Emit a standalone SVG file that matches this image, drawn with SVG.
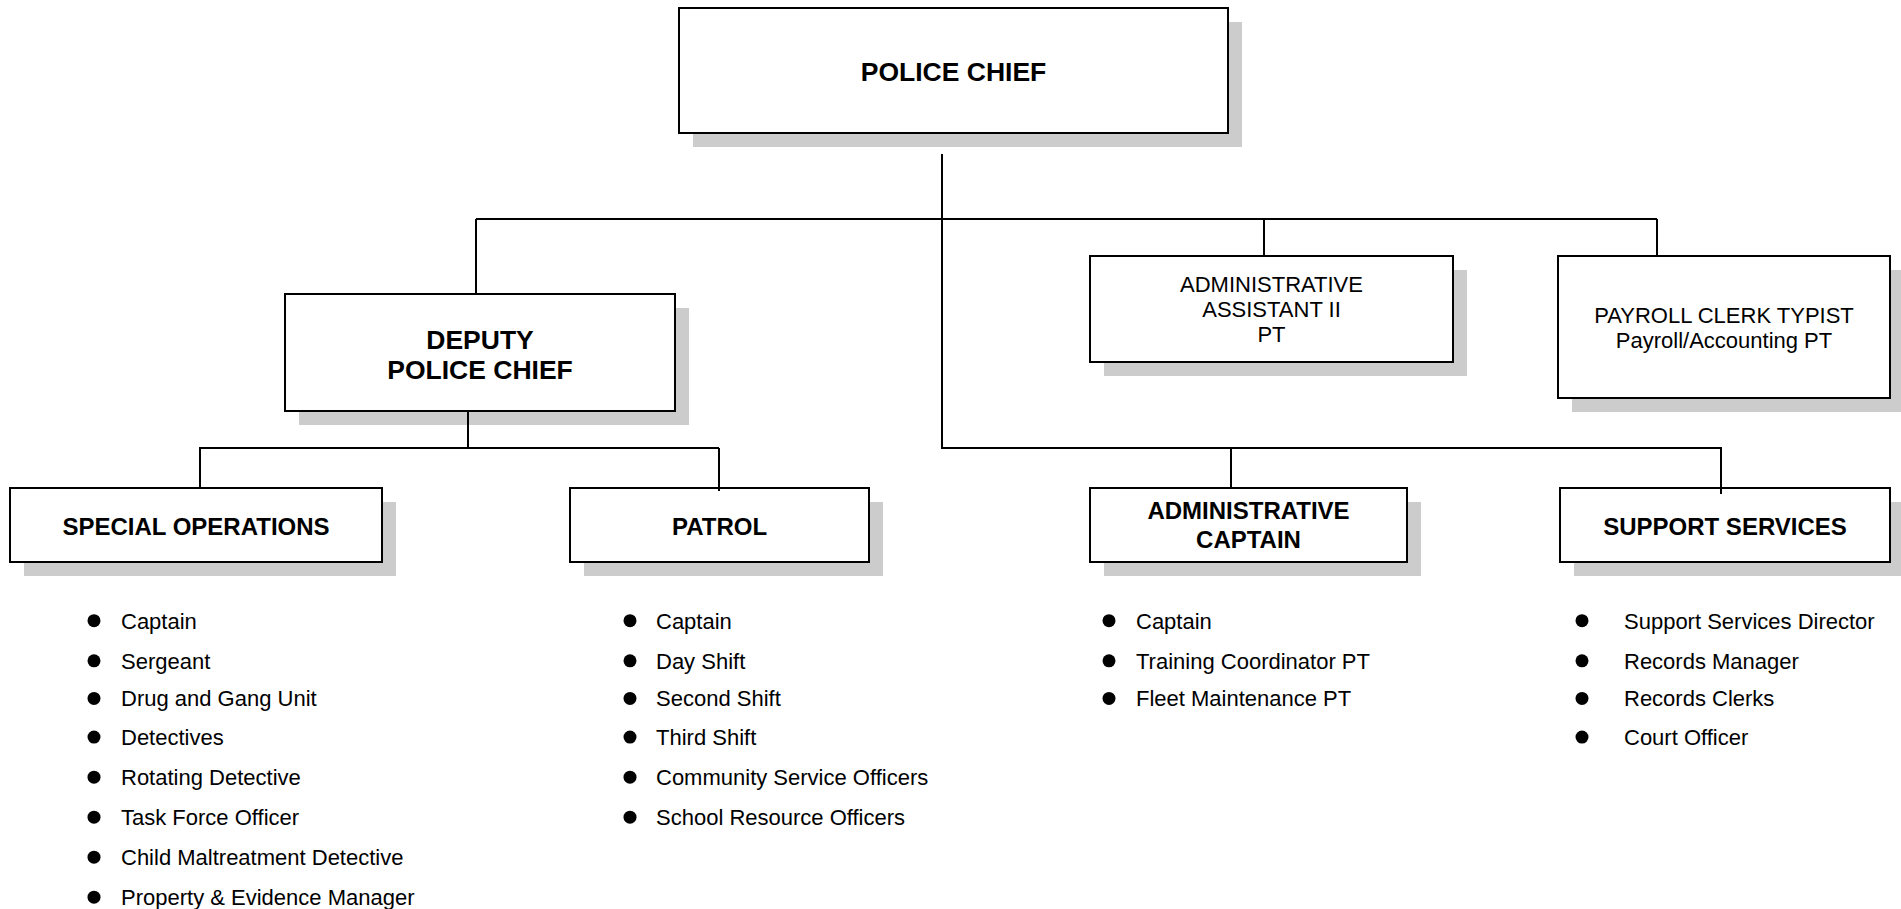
<svg xmlns="http://www.w3.org/2000/svg" width="1901" height="909" viewBox="0 0 1901 909">
<style>
.bg{fill:#ffffff}
.shadow{fill:#cccccc}
.box{fill:#ffffff;stroke:#000000;stroke-width:2}
.t1{font-family:"Liberation Sans",Arial,sans-serif;font-weight:bold;font-size:26.5px;text-anchor:middle;fill:#000}
.t2{font-family:"Liberation Sans",Arial,sans-serif;font-weight:bold;font-size:24px;text-anchor:middle;fill:#000}
.t3{font-family:"Liberation Sans",Arial,sans-serif;font-size:22px;text-anchor:middle;fill:#000}
.li{font-family:"Liberation Sans",Arial,sans-serif;font-size:22px;fill:#000}
.dot{fill:#000}
.conn line{stroke:#000;stroke-width:2;fill:none}
</style>
<rect class="bg" x="0" y="0" width="1901" height="909"/>

<g id="police-chief">
<rect class="shadow" x="693" y="22" width="549" height="125"/>
<rect class="box" x="679" y="8" width="549" height="125"/>
<text class="t1" x="953.5" y="81">POLICE CHIEF</text>
</g>

<g id="deputy-police-chief">
<rect class="shadow" x="299" y="308" width="390" height="117"/>
<rect class="box" x="285" y="294" width="390" height="117"/>
<text class="t1" x="480" y="349">DEPUTY</text>
<text class="t1" x="480" y="379">POLICE CHIEF</text>
</g>

<g id="administrative-assistant">
<rect class="shadow" x="1104" y="270" width="363" height="106"/>
<rect class="box" x="1090" y="256" width="363" height="106"/>
<text class="t3" x="1271.5" y="292">ADMINISTRATIVE</text>
<text class="t3" x="1271.5" y="317">ASSISTANT II</text>
<text class="t3" x="1271.5" y="342">PT</text>
</g>

<g id="payroll-clerk">
<rect class="shadow" x="1572" y="270" width="332" height="142"/>
<rect class="box" x="1558" y="256" width="332" height="142"/>
<text class="t3" x="1724" y="323">PAYROLL CLERK TYPIST</text>
<text class="t3" x="1724" y="348">Payroll/Accounting PT</text>
</g>

<g id="special-operations">
<rect class="shadow" x="24" y="502" width="372" height="74"/>
<rect class="box" x="10" y="488" width="372" height="74"/>
<text class="t2" x="196" y="535">SPECIAL OPERATIONS</text>
<g id="special-operations-list">
<circle class="dot" cx="94" cy="620.7" r="6.5"/><text class="li" x="121" y="628.7">Captain</text>
<circle class="dot" cx="94" cy="660.8" r="6.5"/><text class="li" x="121" y="668.8">Sergeant</text>
<circle class="dot" cx="94" cy="698.4" r="6.5"/><text class="li" x="121" y="706.4">Drug and Gang Unit</text>
<circle class="dot" cx="94" cy="737.1" r="6.5"/><text class="li" x="121" y="745.1">Detectives</text>
<circle class="dot" cx="94" cy="777.2" r="6.5"/><text class="li" x="121" y="785.2">Rotating Detective</text>
<circle class="dot" cx="94" cy="817.2" r="6.5"/><text class="li" x="121" y="825.2">Task Force Officer</text>
<circle class="dot" cx="94" cy="857.2" r="6.5"/><text class="li" x="121" y="865.2">Child Maltreatment Detective</text>
<circle class="dot" cx="94" cy="897.2" r="6.5"/><text class="li" x="121" y="905.2">Property &amp; Evidence Manager</text>
</g>
</g>

<g id="patrol">
<rect class="shadow" x="584" y="502" width="299" height="74"/>
<rect class="box" x="570" y="488" width="299" height="74"/>
<text class="t2" x="719.5" y="535">PATROL</text>
<g id="patrol-list">
<circle class="dot" cx="630" cy="620.7" r="6.5"/><text class="li" x="656" y="628.7">Captain</text>
<circle class="dot" cx="630" cy="660.8" r="6.5"/><text class="li" x="656" y="668.8">Day Shift</text>
<circle class="dot" cx="630" cy="698.4" r="6.5"/><text class="li" x="656" y="706.4">Second Shift</text>
<circle class="dot" cx="630" cy="737.1" r="6.5"/><text class="li" x="656" y="745.1">Third Shift</text>
<circle class="dot" cx="630" cy="777.2" r="6.5"/><text class="li" x="656" y="785.2">Community Service Officers</text>
<circle class="dot" cx="630" cy="817.2" r="6.5"/><text class="li" x="656" y="825.2">School Resource Officers</text>
</g>
</g>

<g id="administrative-captain">
<rect class="shadow" x="1104" y="502" width="317" height="74"/>
<rect class="box" x="1090" y="488" width="317" height="74"/>
<text class="t2" x="1248.5" y="519">ADMINISTRATIVE</text>
<text class="t2" x="1248.5" y="548">CAPTAIN</text>
<g id="administrative-captain-list">
<circle class="dot" cx="1109" cy="620.7" r="6.5"/><text class="li" x="1136" y="628.7">Captain</text>
<circle class="dot" cx="1109" cy="660.8" r="6.5"/><text class="li" x="1136" y="668.8">Training Coordinator PT</text>
<circle class="dot" cx="1109" cy="698.4" r="6.5"/><text class="li" x="1136" y="706.4">Fleet Maintenance PT</text>
</g>
</g>

<g id="support-services">
<rect class="shadow" x="1574" y="502" width="330" height="74"/>
<rect class="box" x="1560" y="488" width="330" height="74"/>
<text class="t2" x="1725" y="535">SUPPORT SERVICES</text>
<g id="support-services-list">
<circle class="dot" cx="1582" cy="620.7" r="6.5"/><text class="li" x="1624" y="628.7">Support Services Director</text>
<circle class="dot" cx="1582" cy="660.8" r="6.5"/><text class="li" x="1624" y="668.8">Records Manager</text>
<circle class="dot" cx="1582" cy="698.4" r="6.5"/><text class="li" x="1624" y="706.4">Records Clerks</text>
<circle class="dot" cx="1582" cy="737.1" r="6.5"/><text class="li" x="1624" y="745.1">Court Officer</text>
</g>
</g>

<g id="connectors" class="conn">
<line x1="942" y1="154" x2="942" y2="449"/>
<line x1="476" y1="219" x2="1657" y2="219"/>
<line x1="476" y1="219" x2="476" y2="294"/>
<line x1="1264" y1="219" x2="1264" y2="256"/>
<line x1="1657" y1="219" x2="1657" y2="256"/>
<line x1="468" y1="411" x2="468" y2="448"/>
<line x1="199" y1="448" x2="719" y2="448"/>
<line x1="200" y1="448" x2="200" y2="488"/>
<line x1="719" y1="448" x2="719" y2="491"/>
<line x1="942" y1="448" x2="1722" y2="448"/>
<line x1="1231" y1="448" x2="1231" y2="488"/>
<line x1="1721" y1="448" x2="1721" y2="494"/>
</g>
</svg>
